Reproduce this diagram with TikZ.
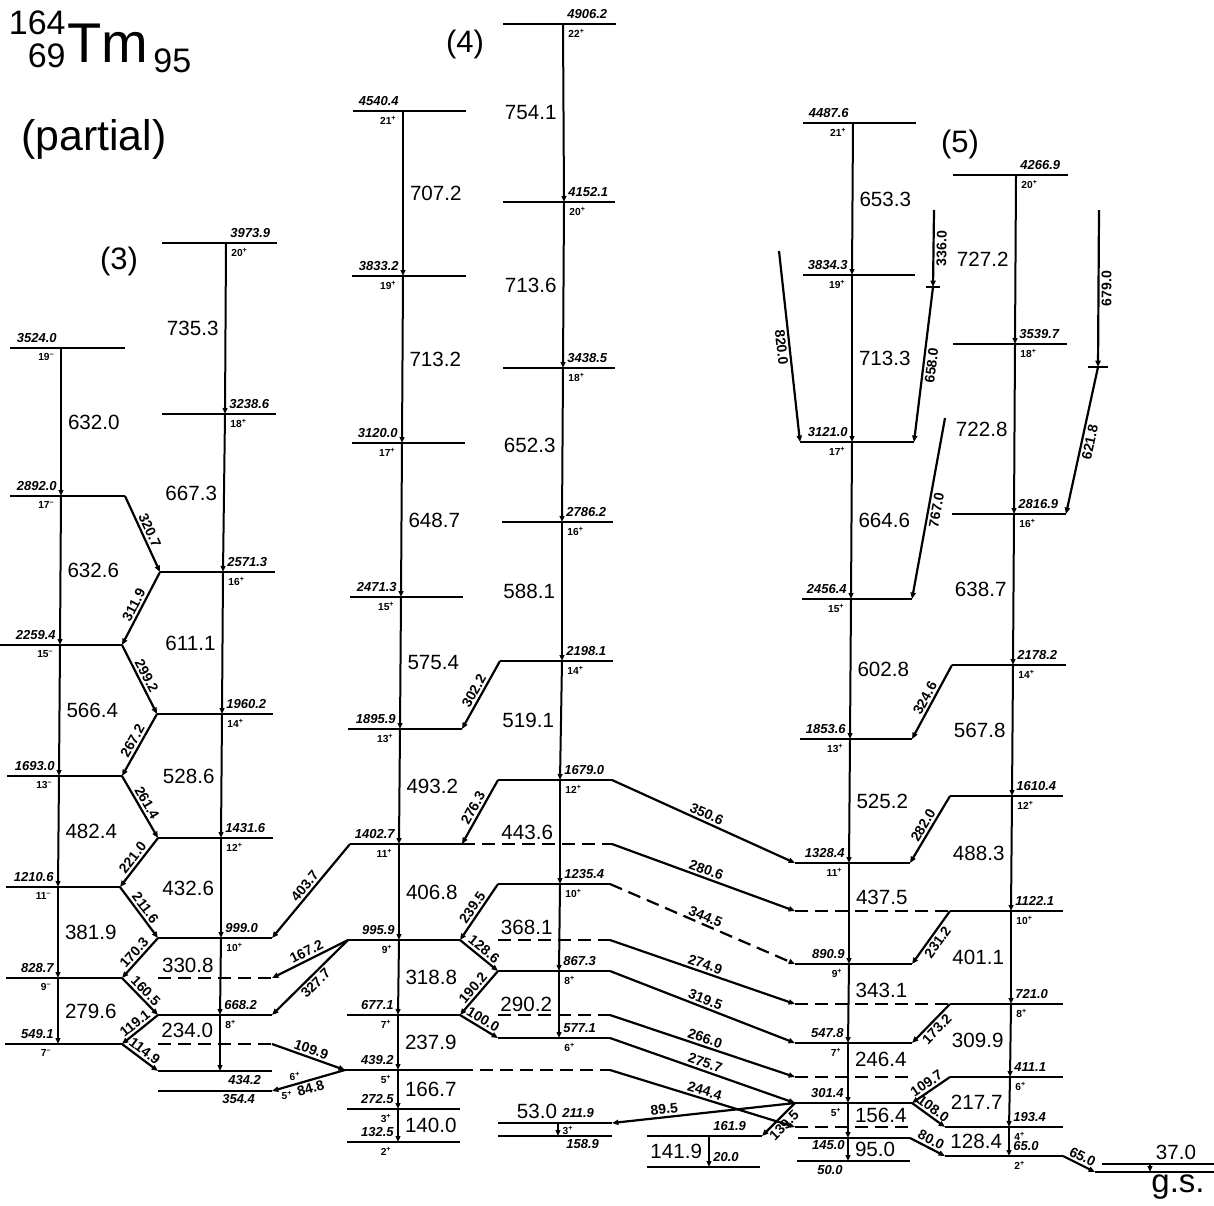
\documentclass[tikz,border=0pt]{standalone}
\usepackage{fontspec}
\setmainfont{Liberation Sans}
\usetikzlibrary{arrows.meta, calc}

\newcommand{\pplus}{\textsuperscript{+}}
\newcommand{\mminus}{\textsuperscript{--}}

\tikzset{
  lev/.style={line width=1.3pt},
  ext/.style={line width=1.3pt, dash pattern=on 6.5pt off 3.5pt},
  vtr/.style={line width=1pt, -{Triangle[length=3pt,width=2.4pt]}},
  dtr/.style={line width=1.1pt, -{Triangle[length=3.2pt,width=2.6pt]}},
  elab/.style={inner sep=0pt, font=\fontsize{6.5}{7}\selectfont\bfseries\itshape},
  slab/.style={inner sep=0pt, font=\fontsize{5.1}{6}\selectfont\bfseries},
  glab/.style={inner sep=0pt, font=\fontsize{10.3}{12}\selectfont},
  tlab/.style={inner sep=1pt, font=\fontsize{7}{8}\selectfont\bfseries, sloped},
  bandlab/.style={inner sep=0pt, font=\fontsize{15.5}{17}\selectfont},
}

% level with its labels left of the band line: name, x-left, x-right, y, x-band, energy, spin
\newcommand{\lvlL}[7]{%
  \draw[lev] (#2,#4) coordinate (#1w) -- (#3,#4) coordinate (#1e);
  \coordinate (#1) at (#5,#4);
  \node[elab, anchor=south east] (#1E) at ([shift={(-4,-5)}]#1) {#6};
  \node[slab, anchor=north east] (#1S) at ([shift={(-6,5)}]#1) {#7};}
% same, labels right of the band line
\newcommand{\lvlR}[7]{%
  \draw[lev] (#2,#4) coordinate (#1w) -- (#3,#4) coordinate (#1e);
  \coordinate (#1) at (#5,#4);
  \node[elab, anchor=south west] (#1E) at ([shift={(4,-5)}]#1) {#6};
  \node[slab, anchor=north west] (#1S) at ([shift={(5,5)}]#1) {#7};}

\begin{document}
\begin{tikzpicture}[x=0.5pt, y=-0.5pt]
\useasboundingbox (0,0) rectangle (1214,1205);

% title
\node[inner sep=0pt, anchor=base west, font=\fontsize{28}{30}\selectfont] (tm) at (67,62) {Tm};
\node[inner sep=0pt, anchor=base east, font=\fontsize{17}{18}\selectfont] (mass) at (66,34) {164};
\node[inner sep=0pt, anchor=base east, font=\fontsize{17}{18}\selectfont] (zz) at (66,67) {69};
\node[inner sep=0pt, anchor=base west, font=\fontsize{17}{18}\selectfont] (nn) at (153,72) {95};
\node[inner sep=0pt, anchor=base west, font=\fontsize{21.4}{23}\selectfont] (part) at (21,150) {(partial)};
\node[bandlab] (b3) at (119,261) {(3)};
\node[bandlab] (b4) at (465,44) {(4)};
\node[bandlab] (b5) at (960,144) {(5)};

% band 3
\lvlL{L3524}{10}{125}{348}{61}{3524.0}{19\mminus}
\lvlL{L2892}{10}{125}{496}{61}{2892.0}{17\mminus}
\lvlL{L2259}{0}{122}{645}{60}{2259.4}{15\mminus}
\lvlL{L1693}{7}{122}{776}{59}{1693.0}{13\mminus}
\lvlL{L1210}{6}{120}{887}{58}{1210.6}{11\mminus}
\lvlL{L828}{6}{122}{978}{58}{828.7}{9\mminus}
\lvlL{L549}{5}{122}{1044}{58}{549.1}{7\mminus}
\lvlR{L3973}{162}{277}{243}{226}{3973.9}{20\pplus}
\lvlR{L3238}{162}{276}{414}{225}{3238.6}{18\pplus}
\lvlR{L2571}{160}{275}{572}{223}{2571.3}{16\pplus}
\lvlR{L1960}{157}{273}{714}{222}{1960.2}{14\pplus}
\lvlR{L1431}{158}{273}{838}{221}{1431.6}{12\pplus}
\lvlR{L999}{158}{272}{938}{221}{999.0}{10\pplus}
\lvlR{L668}{158}{272}{1015}{220}{668.2}{8\pplus}
\lvlR{L434}{158}{272}{1071}{220}{}{}
\lvlR{L354}{158}{272}{1091}{220}{}{}
\node[elab, anchor=north west] (L434E2) at (228,1075) {434.2};
\node[slab] (L434S2) at (295,1076) {6\pplus};
\node[elab, anchor=north west] (L354E2) at (222,1094) {354.4};
\node[slab] (L354S2) at (287,1095) {5\pplus};

% band 4
\lvlL{L4540}{353}{466}{111}{403}{4540.4}{21\pplus}
\lvlL{L3833}{352}{466}{276}{403}{3833.2}{19\pplus}
\lvlL{L3120}{352}{465}{443}{402}{3120.0}{17\pplus}
\lvlL{L2471}{350}{463}{597}{401}{2471.3}{15\pplus}
\lvlL{L1895}{348}{462}{729}{400}{1895.9}{13\pplus}
\lvlL{L1402}{350}{462}{844}{399}{1402.7}{11\pplus}
\lvlL{L995}{348}{460}{940}{399}{995.9}{9\pplus}
\lvlL{L677}{347}{460}{1015}{398}{677.1}{7\pplus}
\lvlL{L439}{345}{460}{1070}{398}{439.2}{5\pplus}
\lvlL{L272}{347}{460}{1109}{398}{272.5}{3\pplus}
\lvlL{L132}{347}{460}{1142}{398}{132.5}{2\pplus}
\lvlR{L4906}{503}{616}{24}{563}{4906.2}{22\pplus}
\lvlR{L4152}{503}{615}{202}{564}{4152.1}{20\pplus}
\lvlR{L3438}{503}{615}{368}{563}{3438.5}{18\pplus}
\lvlR{L2786}{502}{613}{522}{562}{2786.2}{16\pplus}
\lvlR{L2198}{500}{613}{661}{562}{2198.1}{14\pplus}
\lvlR{L1679}{498}{612}{780}{560}{1679.0}{12\pplus}
\lvlR{L1235}{498}{610}{884}{560}{1235.4}{10\pplus}
\lvlR{L867}{498}{610}{971}{559}{867.3}{8\pplus}
\lvlR{L577}{498}{610}{1038}{559}{577.1}{6\pplus}
\lvlR{L211}{498}{612}{1123}{558}{211.9}{}
\lvlR{L158}{498}{612}{1136}{558}{}{}
\node[elab, anchor=north west] (L158E2) at (566,1139) {158.9};
\node[slab] (L158S2) at (568,1130) {3\pplus};
\lvlR{L161}{647}{762}{1136}{709}{161.9}{}
\lvlR{L20}{647}{760}{1167}{709}{20.0}{}

% band 5
\lvlL{L4487}{803}{916}{123}{853}{4487.6}{21\pplus}
\lvlL{L3834}{803}{915}{275}{852}{3834.3}{19\pplus}
\lvlL{L3121}{800}{914}{442}{852}{3121.0}{17\pplus}
\lvlL{L2456}{802}{912}{599}{851}{2456.4}{15\pplus}
\lvlL{L1853}{800}{912}{739}{850}{1853.6}{13\pplus}
\lvlL{L1328}{795}{910}{863}{849}{1328.4}{11\pplus}
\lvlL{L890}{795}{912}{964}{849}{890.9}{9\pplus}
\lvlL{L547}{795}{912}{1043}{848}{547.8}{7\pplus}
\lvlL{L301}{795}{912}{1103}{848}{301.4}{5\pplus}
\lvlL{L145}{798}{910}{1138}{848}{}{}
\lvlL{L50}{797}{910}{1161}{848}{}{}
\node[elab, anchor=north east] (L145E2) at (845,1140) {145.0};
\node[elab, anchor=north east] (L50E2) at (843,1165) {50.0};
\lvlR{L4266}{953}{1068}{175}{1016}{4266.9}{20\pplus}
\lvlR{L3539}{953}{1067}{344}{1015}{3539.7}{18\pplus}
\lvlR{L2816}{952}{1066}{514}{1014}{2816.9}{16\pplus}
\lvlR{L2178}{952}{1066}{665}{1013}{2178.2}{14\pplus}
\lvlR{L1610}{950}{1063}{796}{1012}{1610.4}{12\pplus}
\lvlR{L1122}{950}{1063}{911}{1011}{1122.1}{10\pplus}
\lvlR{L721}{950}{1063}{1004}{1011}{721.0}{8\pplus}
\lvlR{L411}{950}{1063}{1077}{1010}{411.1}{6\pplus}
\lvlR{L193}{945}{1063}{1127}{1009}{193.4}{4\pplus}
\lvlR{L65}{945}{1063}{1156}{1009}{65.0}{2\pplus}

% ground state and 37.0 level
\draw[lev] (1102,1164) coordinate (L37w) -- (1214,1164) coordinate (L37e);
\draw[lev] (1095,1172) coordinate (GSw) -- (1214,1172) coordinate (GSe);
\coordinate (L37) at (1150,1164);
\coordinate (GS) at (1150,1172);
\draw[vtr] (L37) -- (GS);
\node[glab] (t37) at (1176,1152) {37.0};
\node[inner sep=0pt, font=\fontsize{16.5}{18}\selectfont] (gs) at (1178,1187) {g.s.};

% dashed continuations of levels
\draw[ext] (L668w |- L828) -- (L668e |- L828) coordinate (L828x);
\draw[ext] (L668w |- L549) -- (L668e |- L549) coordinate (L549x);
\draw[ext] (L1402e) -- (L1679e |- L1402) coordinate (L1402x);
\draw[ext] (L867w |- L995) -- (L867e |- L995) coordinate (L995x);
\draw[ext] (L867w |- L677) -- (L867e |- L677) coordinate (L677x);
\draw[ext] (L439e) -- (L867e |- L439) coordinate (L439x);
\draw[ext] (L890w |- L1122) coordinate (L1122x) -- (L1122w);
\draw[ext] (L890w |- L721) coordinate (L721x) -- (L721w);
\draw[ext] (L890w |- L411) coordinate (L411x) -- (L890e |- L411);
\draw[ext] (L890w |- L193) coordinate (L193x) -- (L890e |- L193);

% in-band transitions, label right of the line
\foreach \ua/\ub/\lab/\ps in {L3524/L2892/632.0/.5, L2892/L2259/632.6/.5,
    L2259/L1693/566.4/.5, L1693/L1210/482.4/.5, L1210/L828/381.9/.5, L828/L549/279.6/.5,
    L4540/L3833/707.2/.5, L3833/L3120/713.2/.5, L3120/L2471/648.7/.5, L2471/L1895/575.4/.5,
    L1895/L1402/493.2/.5, L1402/L995/406.8/.5, L995/L677/318.8/.5, L677/L439/237.9/.5,
    L439/L272/166.7/.5, L272/L132/140.0/.5,
    L4487/L3834/653.3/.5, L3834/L3121/713.3/.5, L3121/L2456/664.6/.5, L2456/L1853/602.8/.5,
    L1853/L1328/525.2/.5, L1328/L890/437.5/.34, L890/L547/343.1/.33, L547/L301/246.4/.28,
    L301/L145/156.4/.34, L145/L50/95.0/.5}
  \draw[vtr] (\ua) -- node[glab, pos=\ps, anchor=west, xshift=3pt] (v\ua) {\lab} (\ub);

% in-band transitions, label left of the line
\foreach \ua/\ub/\lab/\ps in {L3973/L3238/735.3/.5, L3238/L2571/667.3/.5,
    L2571/L1960/611.1/.5, L1960/L1431/528.6/.5, L1431/L999/432.6/.5, L999/L668/330.8/.36,
    L668/L434/234.0/.27,
    L4906/L4152/754.1/.5, L4152/L3438/713.6/.5, L3438/L2786/652.3/.5, L2786/L2198/588.1/.5,
    L2198/L1679/519.1/.5, L1679/L1235/443.6/.5, L1235/L867/368.1/.5, L867/L577/290.2/.5,
    L161/L20/141.9/.5,
    L4266/L3539/727.2/.5, L3539/L2816/722.8/.5, L2816/L2178/638.7/.5, L2178/L1610/567.8/.5,
    L1610/L1122/488.3/.5, L1122/L721/401.1/.5, L721/L411/309.9/.5, L411/L193/217.7/.5,
    L193/L65/128.4/.5}
  \draw[vtr] (\ua) -- node[glab, pos=\ps, anchor=east, xshift=-3pt] (v\ua) {\lab} (\ub);

\draw[vtr] (L211) -- (L158);
\node[glab] (v53) at (537,1111) {53.0};

% crossing transitions
\foreach \ua/\ub/\lab/\an in {L2892e/L2571w/320.7/south, L2571w/L2259e/311.9/south,
    L2259e/L1960w/299.2/south, L1960w/L1693e/267.2/south, L1693e/L1431w/261.4/south,
    L1431w/L1210e/221.0/south, L1210e/L999w/211.6/south, L999w/L828e/170.3/south,
    L828e/L668w/160.5/south, L668w/L549e/119.1/south, L549e/L434w/114.9/south,
    L1402w/L999e/403.7/south, L995w/L828x/167.2/south, L995w/L668e/327.7/north,
    L549x/L439w/109.9/south, L439w/L354e/84.8/north,
    L2198w/L1895e/302.2/south, L1679w/L1402e/276.3/south, L1235w/L995e/239.5/south,
    L995e/L867w/128.6/south, L867w/L677e/190.2/south, L677e/L577w/100.0/south,
    L1679e/L1328w/350.6/south, L1402x/L1122x/280.6/south, L995x/L721x/274.9/south,
    L867e/L547w/319.5/south, L677x/L411x/266.0/south, L577e/L301w/275.7/south,
    L439x/L193x/244.4/south, L301w/L161e/139.5/north,
    L2178w/L1853e/324.6/south, L1610w/L1328e/282.0/south, L1122w/L890e/231.2/north,
    L721w/L547e/173.2/north, L411w/L301e/109.7/south, L301e/L193w/108.0/south,
    L145e/L65w/80.0/south, L65e/GSw/65.0/south}
  \draw[dtr] (\ua) -- node[tlab, anchor=\an] (d\ua\ub) {\lab} (\ub);

\draw[dtr, dash pattern=on 6.5pt off 3.5pt] (L1235e) -- node[tlab, anchor=south] (d344) {344.5} (L890w);
\draw[dtr] (L301w) -- node[tlab, pos=.71, anchor=south] (d89) {89.5} (L211e);

% transitions from levels not shown
\coordinate (c820) at (779,251);
\coordinate (c336) at (934,210);
\coordinate (k336) at (933,287);
\coordinate (c767) at (945,418);
\coordinate (c679) at (1099,210);
\coordinate (k679) at (1098,367);
\draw[dtr] (c820) -- node[tlab, anchor=north] (d820) {820.0} (L3121w);
\draw[dtr] (c336) -- node[tlab, anchor=north] (d336) {336.0} (k336);
\draw[lev] ([xshift=-3.5pt]k336) -- ([xshift=3.5pt]k336);
\draw[dtr] (k336) -- node[tlab, anchor=north] (d658) {658.0} (L3121e);
\draw[dtr] (c767) -- node[tlab, anchor=north] (d767) {767.0} (L2456e);
\draw[dtr] (c679) -- node[tlab, anchor=north] (d679) {679.0} (k679);
\draw[lev] ([xshift=-5pt]k679) -- ([xshift=5pt]k679);
\draw[dtr] (k679) -- node[tlab, anchor=north] (d621) {621.8} (L2816e);
\end{tikzpicture}
\end{document}
